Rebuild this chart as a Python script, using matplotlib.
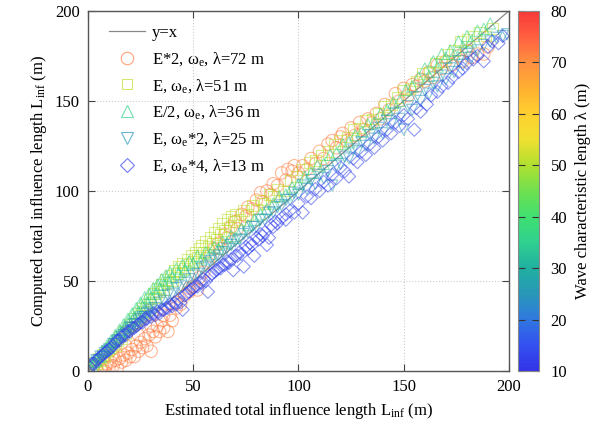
import numpy as np
import matplotlib
matplotlib.use('Agg')
import matplotlib.pyplot as plt
from matplotlib.colors import LinearSegmentedColormap, Normalize
from matplotlib.lines import Line2D

plt.rcParams['font.family'] = ['Liberation Serif', 'DejaVu Serif']
plt.rcParams['mathtext.default'] = 'regular'

# ---------------- data (estimated, L_inf in m) ----------------
# E*2, we, lambda=72 m (circles)
circ_pts = [(3, 0), (4, 2), (6, 1), (7, 3), (8, 0), (9, 4), (10, 2), (11, 5), (12, 3), (13, 6),
            (14, 2), (15, 7), (16, 5), (17, 9), (18, 6), (19, 10), (20, 8), (21, 12), (22, 8),
            (23, 14), (24, 11), (25, 16), (26, 13), (27, 18), (28, 14), (29, 20), (30, 11),
            (31, 22), (32, 19), (33, 25), (34, 22), (35, 28), (36, 24), (38, 22), (39, 31),
            (40, 28), (42, 35), (44, 37), (46, 42), (48, 44), (50, 47), (52, 45), (53, 52),
            (12, 9), (18, 14), (24, 20), (30, 25), (36, 31), (42, 38), (48, 46),
            (55, 55), (57, 60), (58, 64), (60, 68), (62, 71), (63, 68), (65, 76), (66, 74),
            (68, 80), (70, 83), (71, 79), (73, 87), (75, 86), (76, 91), (78, 90), (80, 95),
            (82, 99), (83, 94), (85, 100), (87, 98), (88, 104), (90, 103), (92, 110), (94, 106),
            (95, 112), (97, 111), (98, 114), (100, 110), (102, 114), (104, 112), (106, 118),
            (108, 115), (110, 122), (112, 118), (114, 126), (116, 128), (118, 124), (120, 130),
            (121, 132), (123, 128), (125, 135), (127, 131), (129, 138), (131, 134), (133, 140),
            (135, 138), (137, 143), (139, 140), (141, 148), (143, 145), (146, 154), (148, 150),
            (150, 157), (152, 153), (154, 159), (156, 158), (158, 162), (160, 161), (162, 166),
            (164, 163), (166, 170), (168, 168), (170, 172), (173, 170), (176, 175), (178, 172),
            (180, 178), (182, 174), (185, 176), (188, 176), (190, 180)]
circ_lam = 72

# E, we, lambda=51 m (squares)
sq_pts = [(2, 3), (3, 5), (4, 4), (5, 7), (6, 6), (7, 9), (8, 8), (9, 11), (10, 12), (11, 13),
          (12, 15), (13, 14), (14, 17), (15, 19), (16, 18), (17, 22), (18, 21), (19, 24), (20, 26),
          (21, 25), (22, 29), (23, 28), (24, 32), (25, 31), (26, 35), (27, 33), (28, 37), (29, 40),
          (30, 38), (31, 43), (32, 41), (33, 46), (34, 44), (35, 48), (36, 45), (37, 51), (38, 49),
          (39, 53), (40, 50), (41, 56), (42, 54), (43, 58), (44, 55), (45, 60), (46, 57), (47, 62),
          (48, 59), (49, 64), (50, 61), (51, 66), (52, 63), (53, 68), (54, 70), (55, 66), (56, 72),
          (57, 69), (58, 74), (59, 71), (60, 77), (61, 73), (62, 79), (63, 76), (64, 82), (65, 78),
          (66, 84), (67, 80), (68, 86), (69, 83), (70, 87), (72, 84), (74, 89), (76, 87), (78, 92),
          (80, 90), (82, 95), (84, 93), (86, 98), (88, 97), (90, 101), (93, 100), (96, 106),
          (99, 108), (102, 112), (105, 116), (108, 117), (111, 120), (114, 122), (117, 126),
          (120, 128), (123, 130), (126, 134), (129, 135), (132, 139), (135, 140), (138, 143),
          (141, 147), (144, 148), (147, 152), (150, 156), (153, 157), (156, 161), (159, 165),
          (162, 166), (165, 171), (168, 172), (171, 176), (174, 178), (177, 183), (180, 184),
          (183, 186), (186, 188), (189, 186), (192, 190)]
sq_lam = 51

# E/2, we, lambda=36 m (triangles up)
tri_pts = [(1, 2), (2, 3), (3, 5), (4, 6), (5, 8), (6, 8), (7, 11), (8, 11), (9, 14), (10, 13),
           (11, 17), (12, 16), (13, 20), (14, 19), (15, 23), (16, 22), (17, 26), (18, 25), (19, 29),
           (20, 28), (21, 32), (22, 30), (23, 35), (24, 33), (25, 38), (26, 36), (27, 41), (28, 38),
           (29, 43), (30, 41), (31, 46), (32, 43), (33, 48), (34, 46), (35, 51), (36, 48), (37, 53),
           (38, 50), (39, 55), (40, 52), (42, 57), (43, 54), (45, 59), (46, 56), (48, 61), (50, 60),
           (52, 64), (54, 62), (56, 66), (58, 65), (60, 69), (62, 68), (64, 72), (66, 71), (68, 75),
           (70, 74), (73, 79), (76, 81), (79, 84), (82, 87), (85, 90), (88, 93), (91, 97), (94, 98),
           (97, 102), (100, 104), (103, 108), (106, 110), (109, 114), (112, 115), (115, 120),
           (118, 121), (121, 126), (124, 127), (127, 131), (130, 133), (133, 137), (136, 138),
           (139, 143), (142, 145), (145, 149), (148, 150), (151, 156), (154, 158), (157, 163),
           (160, 168), (162, 164), (164, 172), (166, 169), (168, 176), (170, 174), (172, 178),
           (174, 176), (176, 183), (178, 180), (180, 186), (182, 183), (185, 189), (188, 190),
           (191, 193)]
tri_lam = 36

# E, we*2, lambda=25 m (triangles down)
tdn_pts = [(2, 3), (3, 4), (4, 6), (5, 6), (6, 8), (7, 8), (8, 10), (9, 11), (10, 12), (11, 12),
           (12, 15), (13, 15), (14, 17), (15, 17), (16, 19), (17, 20), (18, 21), (19, 22), (20, 24),
           (21, 24), (22, 26), (23, 26), (24, 28), (25, 29), (26, 30), (27, 30), (28, 32), (29, 33),
           (30, 34), (32, 35), (34, 38), (36, 39), (38, 42), (40, 43), (42, 46), (44, 47), (46, 49),
           (48, 51), (50, 53), (52, 54), (54, 57), (56, 58), (58, 61), (60, 62), (62, 64), (64, 66),
           (66, 68), (68, 70), (70, 72), (72, 73), (74, 76), (76, 77), (78, 80), (80, 80), (82, 84),
           (84, 84), (86, 88), (88, 88), (90, 91), (92, 92), (94, 95), (96, 95), (98, 99), (100, 98),
           (102, 103), (104, 101), (106, 106), (108, 104), (110, 109), (112, 107), (114, 111),
           (116, 103), (118, 114), (120, 115), (122, 119), (124, 118), (126, 123), (128, 122),
           (130, 127), (132, 125), (134, 131), (136, 129), (138, 135), (140, 132), (142, 139),
           (144, 137), (146, 143), (148, 140), (150, 134), (152, 147), (154, 145), (156, 152),
           (158, 150), (160, 156), (162, 154), (164, 160), (166, 158), (168, 164), (170, 162),
           (172, 168), (174, 166), (176, 172), (178, 170), (180, 176), (182, 174), (185, 178),
           (188, 181), (191, 183), (194, 185), (197, 186), (199, 187)]
tdn_lam = 25

# E, we*4, lambda=13 m (diamonds)
dia_pts = [(1, 2), (2, 4), (3, 4), (4, 6), (5, 7), (6, 8), (7, 9), (8, 10), (9, 11), (10, 12),
           (11, 13), (12, 14), (13, 16), (14, 17), (15, 17), (16, 19), (17, 20), (18, 20), (19, 22),
           (20, 22), (21, 24), (22, 24), (23, 25), (24, 26), (25, 27), (26, 27), (27, 29), (28, 29),
           (29, 31), (30, 30), (31, 32), (32, 31), (33, 33), (34, 32), (35, 34), (36, 34), (37, 35),
           (38, 35), (39, 37), (40, 36), (41, 38), (42, 37), (43, 40), (44, 38), (45, 34), (46, 42),
           (47, 43), (48, 44), (49, 45), (50, 46), (51, 47), (52, 47), (53, 49), (54, 49), (55, 51),
           (56, 50), (57, 44), (58, 53), (59, 54), (60, 55), (61, 56), (62, 57), (63, 57), (64, 59),
           (65, 59), (66, 61), (67, 60), (68, 62), (69, 56), (70, 64), (71, 64), (72, 66), (73, 65),
           (74, 58), (75, 69), (76, 68), (77, 71), (78, 70), (79, 64), (80, 74), (81, 73), (82, 76),
           (83, 75), (84, 77), (85, 70), (86, 74), (87, 81), (88, 80), (89, 83), (90, 82), (92, 85),
           (94, 84), (94, 87), (96, 89), (98, 88), (100, 93), (102, 88), (104, 97), (106, 96),
           (108, 101), (110, 100), (112, 105), (114, 103), (116, 109), (118, 107), (120, 113),
           (122, 111), (124, 108), (126, 118), (128, 116), (130, 122), (132, 120), (134, 126),
           (136, 124), (138, 130), (140, 128), (142, 134), (144, 132), (146, 138), (148, 136),
           (150, 142), (152, 140), (155, 134), (156, 146), (158, 144), (161, 148), (163, 153),
           (166, 155), (168, 158), (171, 160), (173, 163), (176, 166), (178, 168), (180, 171),
           (183, 173), (185, 175), (188, 172), (190, 180), (192, 183), (195, 182), (197, 186)]
dia_lam = 13

series = [
    (circ_pts, circ_lam, 'o', 80, r'E*2, ω$_{e}$, λ=72 m'),
    (sq_pts, sq_lam, 's', 60, r'E, ω$_{e}$, λ=51 m'),
    (tri_pts, tri_lam, '^', 65, r'E/2, ω$_{e}$, λ=36 m'),
    (tdn_pts, tdn_lam, 'v', 65, r'E, ω$_{e}$*2, λ=25 m'),
    (dia_pts, dia_lam, 'D', 45, r'E, ω$_{e}$*4, λ=13 m'),
]

# colour map like the reference bar (blue -> teal -> green -> yellow -> red)
cmap = LinearSegmentedColormap.from_list('wave', [
    (0.00, '#3333e6'), (0.071, '#3350f0'), (0.143, '#3078e0'), (0.214, '#2898b8'),
    (0.286, '#20b0a0'), (0.357, '#30d090'), (0.429, '#40e070'), (0.500, '#70e050'),
    (0.571, '#b0e030'), (0.643, '#f0e030'), (0.714, '#ffd030'), (0.786, '#ffb030'),
    (0.857, '#ff9040'), (0.929, '#ff6040'), (1.00, '#f83838')])
norm = Normalize(vmin=10, vmax=80)

fig = plt.figure(figsize=(5.94, 4.32), dpi=100)
ax = fig.add_axes([0.148, 0.141, 0.709, 0.834])
cax = fig.add_axes([0.872, 0.141, 0.036, 0.834])

ax.plot([0, 200], [0, 200], color='#888888', lw=0.9, zorder=1)
handles = [Line2D([], [], color='#888888', lw=0.9, label='y=x')]
for pts, lam, mk, sz, lab in series:
    xs, ys = zip(*pts)
    col = cmap(norm(lam))
    ax.scatter(xs, ys, s=sz, marker=mk, facecolors='none', edgecolors=[col],
               linewidths=0.8, alpha=0.55, zorder=2)
    handles.append(Line2D([], [], ls='none', marker=mk, markersize=np.sqrt(sz),
                          mfc='none', mec=col, mew=0.8, alpha=0.7, label=lab))

ax.set_xlim(0, 200)
ax.set_ylim(0, 200)
ticks = [0, 50, 100, 150, 200]
ax.set_xticks(ticks)
ax.set_yticks(ticks)
ax.tick_params(direction='in', top=True, right=True, length=5, width=0.8,
               labelsize=12, color='#444444', pad=6)
ax.grid(True, ls=':', color='#cccccc', lw=0.8)
for sp in ax.spines.values():
    sp.set_color('#555555')
    sp.set_linewidth(1.0)

ax.set_xlabel(r'Estimated total influence length L$_{inf}$ (m)', fontsize=12, labelpad=4)
ax.set_ylabel(r'Computed total influence length L$_{inf}$ (m)', fontsize=12, labelpad=4)

ax.legend(handles=handles, loc='upper left', frameon=False, fontsize=12,
          handlelength=2.15, labelspacing=0.54, handletextpad=0.45, borderaxespad=0.3,
          bbox_to_anchor=(0.022, 0.993))

sm = plt.cm.ScalarMappable(norm=norm, cmap=cmap)
cb = fig.colorbar(sm, cax=cax, ticks=[10, 20, 30, 40, 50, 60, 70, 80])
cb.outline.set_edgecolor('#888888')
cb.ax.tick_params(direction='in', length=5, width=0.8, labelsize=12, left=True,
                  right=True, color='#333333', pad=8)
cb.set_label('Wave characteristic length λ (m)', fontsize=12, labelpad=6)

fig.savefig('out.png', dpi=100)
